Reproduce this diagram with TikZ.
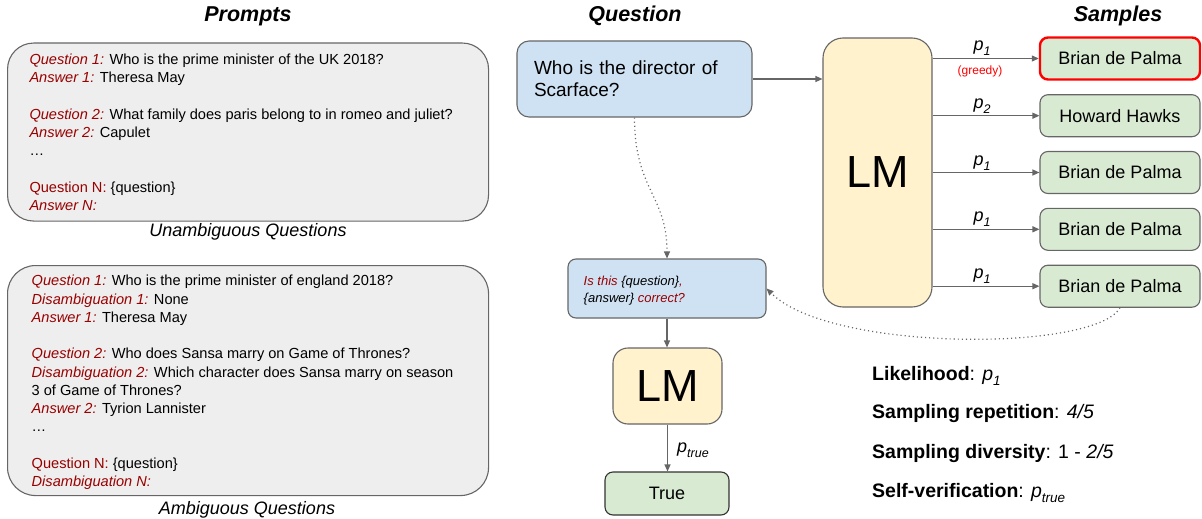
\documentclass[tikz,border=0pt]{standalone}
\usepackage{fontspec}
\setmainfont{Liberation Sans}
\usetikzlibrary{arrows.meta}
\definecolor{qred}{RGB}{153,0,0}
\definecolor{linegray}{HTML}{666666}
\definecolor{pfill}{HTML}{EEEEEE}
\definecolor{qblue}{HTML}{CFE2F3}
\definecolor{lmyellow}{HTML}{FFF2CC}
\definecolor{sgreen}{HTML}{D9EAD3}
\definecolor{darkline}{HTML}{333333}
\newcommand{\redit}[1]{{\color{qred}\itshape #1}}
\newcommand{\redup}[1]{{\color{qred}#1}}
\newcommand{\plab}[1]{{\itshape p\raisebox{-5pt}{\fontsize{12.5}{12.5}\selectfont #1}}}
\newcommand{\pbig}[1]{{\itshape p\raisebox{-5pt}{\fontsize{13.5}{13.5}\selectfont #1}}}
\begin{document}
\begin{tikzpicture}[x=1pt,y=-1pt,
  box/.style={draw=linegray, line width=1.1pt},
  conn/.style={draw=linegray, line width=1.2pt, -{Triangle[length=7pt,width=6pt]}},
  dotconn/.style={draw=linegray, line width=1.2pt, dash pattern=on 1.1pt off 3pt, -{Triangle[length=7pt,width=6pt]}},
  title/.style={font=\fontsize{21.5}{24}\selectfont\bfseries\itshape},
  subtitle/.style={font=\fontsize{18}{20}\selectfont\itshape},
  ptext/.style={align=left, inner sep=0pt, font=\fontsize{14.6}{18.25}\selectfont},
  sbox/.style={box, fill=sgreen, rounded corners=8pt, minimum width=160pt, minimum height=42pt, font=\fontsize{18}{20}\selectfont},
  problabel/.style={font=\fontsize{18}{20}\selectfont, inner sep=0pt, anchor=base},
  metric/.style={font=\fontsize{19.5}{22}\selectfont, inner sep=0pt, anchor=base west}
]
\useasboundingbox (0,0) rectangle (1202,519);

% titles
\node[title, anchor=base] (tprompts) at (248,22) {Prompts};
\node[title, anchor=base] (tquestion) at (635,22) {Question};
\node[title, anchor=base] (tsamples) at (1118,22) {Samples};

% prompt box 1
\node[box, fill=pfill, rounded corners=26pt, minimum width=481pt, minimum height=178pt, anchor=north west] (pb1) at (7,42.5) {};
\node[ptext, anchor=north west] (pt1) at (29.3,53.7) {%
\redit{Question 1:} Who is the prime minister of the UK 2018?\\
\redit{Answer 1:} Theresa May\\[18.25pt]
\redit{Question 2:} What family does paris belong to in romeo and juliet?\\
\redit{Answer 2:} Capulet\\
…\\[18.25pt]
\redup{Question N:} \{question\}\\
\redit{Answer N:}};
\node[subtitle, anchor=base] (st1) at (248,236.7) {Unambiguous Questions};

% prompt box 2
\node[box, fill=pfill, rounded corners=28pt, minimum width=481pt, minimum height=230pt, anchor=north west] (pb2) at (7,265) {};
\node[ptext, anchor=north west] (pt2) at (31.5,275.1) {%
\redit{Question 1:} Who is the prime minister of england 2018?\\
\redit{Disambiguation 1:} None\\
\redit{Answer 1:} Theresa May\\[18.25pt]
\redit{Question 2:} Who does Sansa marry on Game of Thrones?\\
\redit{Disambiguation 2:} Which character does Sansa marry on season\\
3 of Game of Thrones?\\
\redit{Answer 2:} Tyrion Lannister\\
…\\[18.25pt]
\redup{Question N:} \{question\}\\
\redit{Disambiguation N:}};
\node[subtitle, anchor=base] (st2) at (247,514.5) {Ambiguous Questions};

% question
\node[box, fill=qblue, rounded corners=12pt, minimum width=235pt, minimum height=76pt, text width=201pt, align=left, inner sep=2pt, font=\fontsize{19}{22.4}\selectfont] (q) at (634.5,79) {Who is the director of\\Scarface?};

% big LM
\node[box, fill=lmyellow, rounded corners=20pt, minimum width=109pt, minimum height=269pt, font=\fontsize{45}{45}\selectfont] (lm) at (877.5,172.5) {LM};
\draw[conn] (q.east) -- (q.east -| lm.west);

% samples
\node[sbox, draw=red, line width=2.4pt] (s1) at (1120,58.5) {Brian de Palma};
\node[sbox] (s2) at (1120,115.7) {Howard Hawks};
\node[sbox] (s3) at (1120,172.5) {Brian de Palma};
\node[sbox] (s4) at (1120,229.3) {Brian de Palma};
\node[sbox] (s5) at (1120,286.2) {Brian de Palma};
\draw[conn] (lm.east |- s1.west) -- (s1.west);
\draw[conn] (lm.east |- s2.west) -- (s2.west);
\draw[conn] (lm.east |- s3.west) -- (s3.west);
\draw[conn] (lm.east |- s4.west) -- (s4.west);
\draw[conn] (lm.east |- s5.west) -- (s5.west);
\node[problabel] (l1) at (982,50.8) {\plab{1}};
\node[font=\fontsize{12}{13}\selectfont, text=red, inner sep=0pt] (greedy) at (980,71.5) {(greedy)};
\node[problabel] (l2) at (982,108) {\plab{2}};
\node[problabel] (l3) at (982,165) {\plab{1}};
\node[problabel] (l4) at (982,221.6) {\plab{1}};
\node[problabel] (l5) at (982,278.5) {\plab{1}};

% verification
\node[box, fill=qblue, rounded corners=8pt, minimum width=198pt, minimum height=59pt] (v) at (667,288.5) {};
\node[align=left, inner sep=0pt, anchor=base west, font=\fontsize{13}{17.7}\selectfont\itshape] (vt) at (583.5,302.7) {\redit{Is this} \{question\}\redit{,}\\\{answer\} \redit{correct?}};
\draw[dotconn] (q.south) .. controls (634.5,190) and (667,195) .. (v.north);
\draw[dotconn] (s5.south) .. controls (1095,352) and (830,352) .. (v.east);

% small LM
\node[box, fill=lmyellow, rounded corners=15pt, minimum width=109pt, minimum height=76pt, font=\fontsize{45}{45}\selectfont] (lm2) at (667.5,386) {LM};
\node[box, draw=darkline, fill=sgreen, rounded corners=8pt, minimum width=124pt, minimum height=43pt, font=\fontsize{18}{20}\selectfont] (tr) at (667,493.5) {True};
\draw[conn] (v.south) -- (v.south |- lm2.north);
\draw[conn] (lm2.south) -- (lm2.south |- tr.north);
\node[problabel, anchor=base west] (lt) at (677,452) {\plab{true}};

% metrics
\node[metric] (m1) at (872,380) {\textbf{Likelihood}: \pbig{1}};
\node[metric] (m2) at (872,418) {\textbf{Sampling repetition}: \textit{4/5}};
\node[metric] (m3) at (872,458) {\textbf{Sampling diversity}: 1 - \textit{2/5}};
\node[metric] (m4) at (872,497) {\textbf{Self-verification}: \pbig{true}};
\end{tikzpicture}
\end{document}
